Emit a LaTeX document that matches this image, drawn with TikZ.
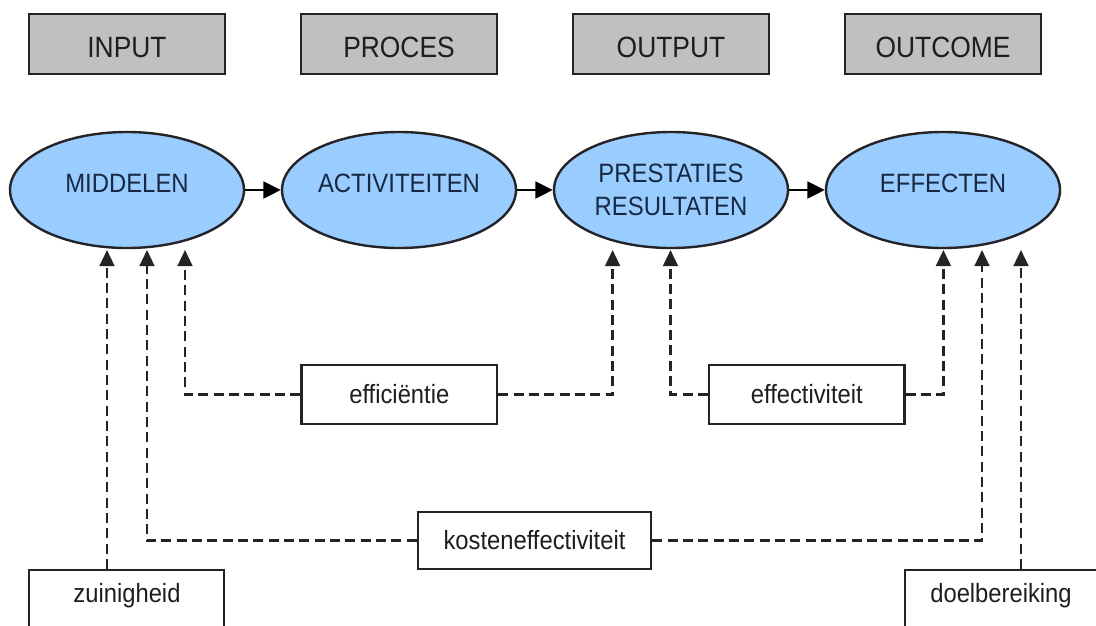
\documentclass[tikz,border=0pt]{standalone}
\usepackage{fontspec}
\setmainfont{Liberation Sans}[FakeStretch=0.9]
\usetikzlibrary{arrows.meta,shapes.geometric}
\definecolor{boxgray}{RGB}{192,192,192}
\definecolor{ellblue}{RGB}{153,204,255}
\definecolor{linedark}{RGB}{35,35,40}
\definecolor{elltext}{RGB}{25,40,65}
\definecolor{boxtext}{RGB}{30,30,30}
\begin{document}
\begin{tikzpicture}[x=0.75pt,y=-0.75pt,
  phasebox/.style={draw=linedark,line width=1.8pt,fill=boxgray,minimum width=147pt,minimum height=45pt,inner sep=0pt,text=boxtext,font=\fontsize{22}{26}\selectfont,text height=19.5pt,text depth=0pt},
  stage/.style={ellipse,draw=linedark,line width=1.8pt,fill=ellblue,minimum width=175.5pt,minimum height=87pt,inner sep=0pt,text=elltext,align=center,font=\fontsize{19.9}{24.5}\selectfont},
  oneline/.style={text height=14.2pt,text depth=10.5pt},
  measure/.style={draw=linedark,line width=1.8pt,fill=white,minimum height=44pt,inner sep=0pt,text=boxtext,font=\fontsize{19.8}{23}\selectfont},
  measuretext/.style={text=boxtext,font=\fontsize{19.8}{23}\selectfont,inner sep=0pt},
  flow/.style={line width=2pt,draw=black,-{Triangle[length=13pt,width=12.5pt]}},
  dasharr/.style={line width=1.8pt,draw=linedark,dash pattern=on 7.5pt off 4pt,-{Triangle[length=12pt,width=11pt]}}
]
\useasboundingbox (0,0) rectangle (1096,625);
\clip (0,0) rectangle (1096,625);
\fill[white] (0,0) rectangle (1096,625);

% top phase boxes
\node[phasebox] (input)   at (127,44) {INPUT};
\node[phasebox] (proces)  at (399,44) {PROCES};
\node[phasebox] (output)  at (671,44) {OUTPUT};
\node[phasebox] (outcome) at (943,44) {OUTCOME};

% stages
\node[stage,oneline] (mid) at (127,190) {MIDDELEN};
\node[stage,oneline] (act) at (399,190) {ACTIVITEITEN};
\node[stage] (pre) at (671,190) {PRESTATIES\\RESULTATEN};
\node[stage,oneline] (eff) at (943,190) {EFFECTEN};

\draw[flow] (mid.east) -- (act.west);
\draw[flow] (act.east) -- (pre.west);
\draw[flow] (pre.east) -- (eff.west);

% measure boxes
\node[measure,minimum width=146.5pt] (effi) at (399.3,394.5) {efficiëntie};
\node[measure,minimum width=146.5pt] (effe) at (806.8,394.5) {effectiviteit};
\node[measure,minimum width=174.75pt,minimum height=43pt] (kost) at (534.5,540.5) {kosteneffectiviteit};
\node[measure,minimum width=146pt,minimum height=45pt,anchor=north] (zuin) at (126.5,569) {};
\node[measuretext] (zuint) at (127,596) {zuinigheid};
\node[measure,minimum width=147pt,minimum height=45pt,anchor=north] (doel) at (1003,569) {};
\node[measuretext] (doelt) at (1001,596) {doelbereiking};

% arrow end points
\coordinate (a1) at (107,250);
\coordinate (a2) at (147,250);
\coordinate (a3) at (185,250);
\coordinate (b1) at (612.6,250);
\coordinate (b2) at (670.5,250);
\coordinate (c1) at (943.4,250);
\coordinate (c2) at (982,250);
\coordinate (c3) at (1021,250);

\draw[dasharr] (zuin.north -| a1) -- (a1);
\draw[dasharr] (kost.west) -| (a2);
\draw[dasharr] (effi.west) -| (a3);
\draw[dasharr] (effi.east) -| (b1);
\draw[dasharr] (effe.west) -| (b2);
\draw[dasharr] (effe.east) -| (c1);
\draw[dasharr] (kost.east) -| (c2);
\draw[dasharr] (doel.north -| c3) -- (c3);
\end{tikzpicture}
\end{document}
